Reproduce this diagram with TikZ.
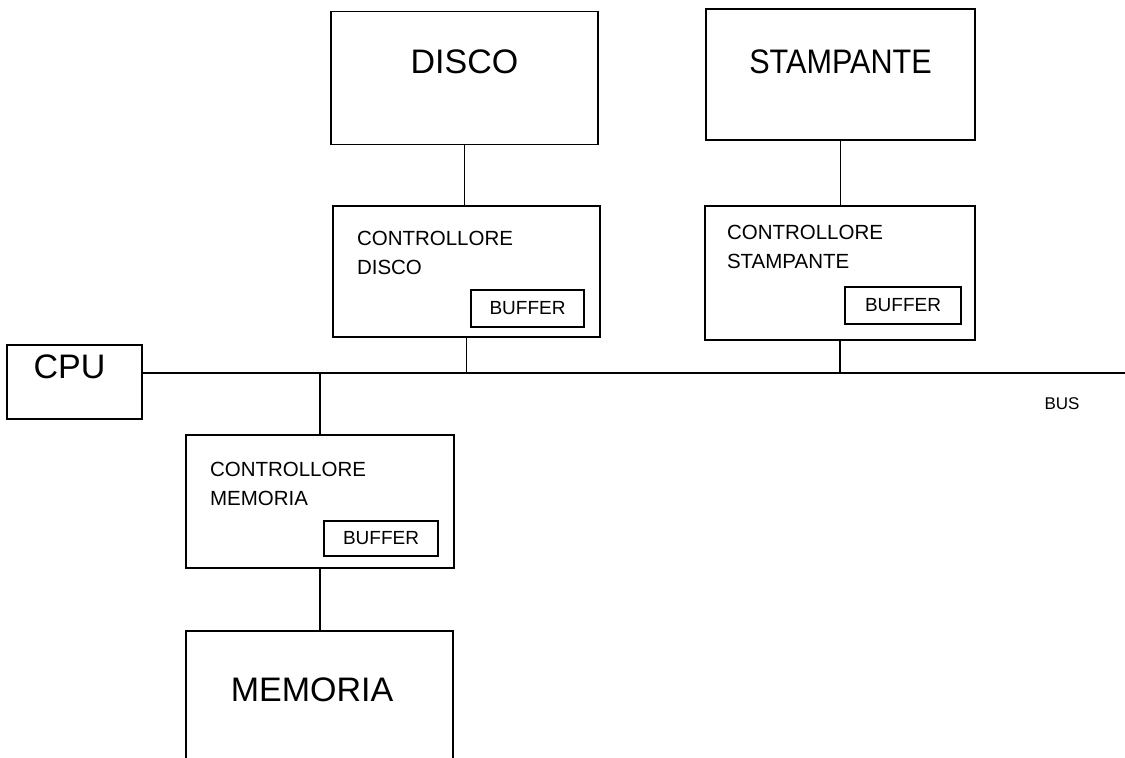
\documentclass[tikz,border=0pt]{standalone}
\usepackage{fontspec}
\setmainfont{Liberation Sans}
\usetikzlibrary{positioning,calc}

\begin{document}
\begin{tikzpicture}[x=1pt, y=-1pt, line width=1.7pt,
  unit/.style={draw, minimum width=267pt, minimum height=133pt, inner sep=0pt},
  bigtxt/.style={font=\fontsize{34}{38}\selectfont, inner sep=0pt},
  ctrltxt/.style={font=\fontsize{20.5}{29}\selectfont, align=left, inner sep=0pt, anchor=north west},
  buf/.style={draw, minimum width=114pt, minimum height=36pt, inner sep=0pt, anchor=south east,
    font=\fontsize{19}{21}\selectfont}]
\useasboundingbox (0,0) rectangle (1125,758);
\clip (0,0) rectangle (1125,758);
% devices
\node[unit] (disco) at (464.5,78) {};
\node[bigtxt] at ([yshift=16pt]disco.center) {DISCO};
\node[unit, minimum width=269pt, minimum height=131pt] (stamp) at (840.5,74.5) {};
\node[bigtxt, xscale=0.9] at ([yshift=13pt]stamp.center) {STAMPANTE};
\node[draw, minimum width=135pt, minimum height=74pt, inner sep=0pt] (cpu) at (74.5,382) {};
\node[bigtxt] at ([xshift=-5pt,yshift=15pt]cpu.center) {CPU};
\node[unit, minimum height=220pt] (mem) at (319.5,741) {};
\node[bigtxt] at (312,690) {MEMORIA};
% controllers
\node[unit, minimum height=131pt] (cdisco) at (466.5,271.5) {};
\node[ctrltxt] at ([xshift=24pt,yshift=-25pt]cdisco.north west) {CONTROLLORE\\DISCO};
\node[buf, minimum width=113pt, minimum height=37pt] (bdisco) at ([xshift=-16pt,yshift=10pt]cdisco.south east) {BUFFER};
\node[unit, minimum width=270pt, minimum height=134pt] (cstamp) at (840,273) {};
\node[ctrltxt] at ([xshift=22pt,yshift=-19pt]cstamp.north west) {CONTROLLORE\\STAMPANTE};
\node[buf, minimum width=116pt, minimum height=37pt] (bstamp) at ([xshift=-14pt,yshift=16pt]cstamp.south east) {BUFFER};
\node[unit, minimum width=268pt] (cmem) at (320,501.5) {};
\node[ctrltxt] at ([xshift=24pt,yshift=-27pt]cmem.north west) {CONTROLLORE\\MEMORIA};
\node[buf, minimum height=35pt] (bmem) at ([xshift=-16pt,yshift=12pt]cmem.south east) {BUFFER};
% bus
\coordinate (busend) at (1125,373);
\draw (cpu.east |- busend) -- (busend);
\node[font=\fontsize{17}{19}\selectfont, inner sep=0pt] (bus) at (1062,403.5) {BUS};
\foreach \c in {cdisco,cstamp}\draw (\c.south) -- (\c.south |- busend);
\draw (cmem.north) -- (cmem.north |- busend);
\draw (disco.south) -- (disco.south |- cdisco.north);
\draw (stamp.south) -- (stamp.south |- cstamp.north);
\draw (cmem.south) -- (cmem.south |- mem.north);
\end{tikzpicture}
\end{document}
